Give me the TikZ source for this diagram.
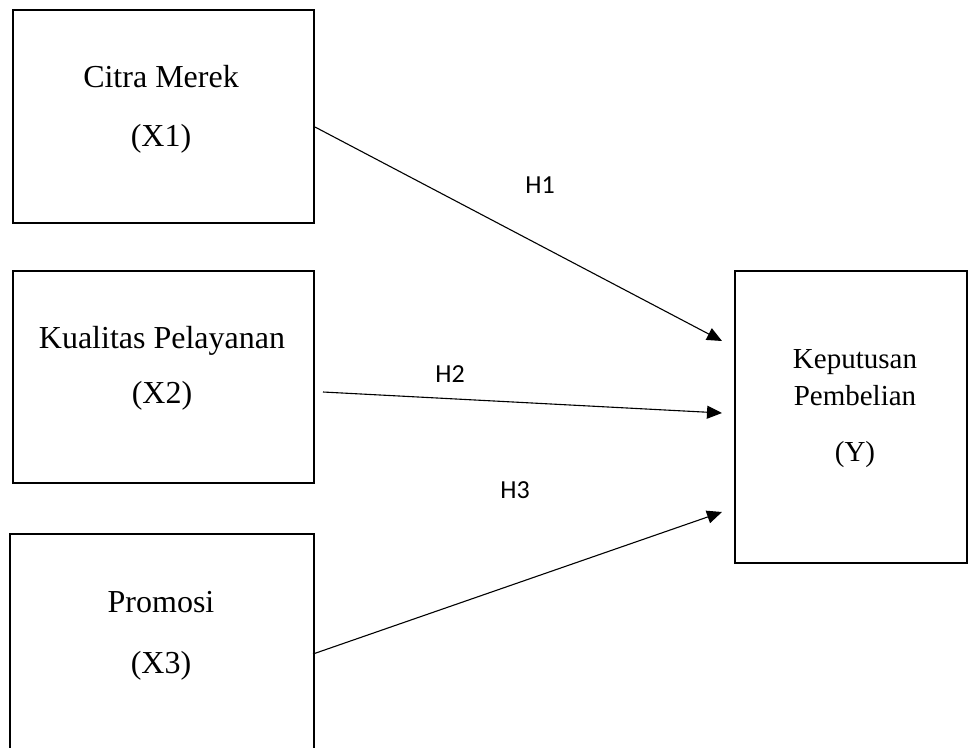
\documentclass[tikz,border=0pt]{standalone}
\usepackage{fontspec}
\setmainfont{Liberation Serif}
\newfontfamily\hfont{Carlito}
\usetikzlibrary{arrows.meta}
\begin{document}
\begin{tikzpicture}[x=1pt,y=-1pt,
  boxnode/.style={draw=black,line width=2pt,inner sep=0pt,anchor=north west},
  xtext/.style={anchor=base,inner sep=0pt,font=\fontsize{32}{38}\selectfont},
  ytext/.style={anchor=base,inner sep=0pt,font=\fontsize{29}{35}\selectfont},
  htext/.style={anchor=base,inner sep=0pt,font=\hfont\fontsize{26}{31}\selectfont},
  link/.style={line width=1.1pt,-{Triangle[length=15pt,width=13pt]}}]
\useasboundingbox (0,0) rectangle (968,747);
% boxes
\node[boxnode,minimum width=301pt,minimum height=213pt] (b1) at (12,9) {};
\node[boxnode,minimum width=301pt,minimum height=212pt] (b2) at (12,270) {};
\node[boxnode,minimum width=304pt,minimum height=217pt] (b3) at (9,533) {};
\node[boxnode,minimum width=232pt,minimum height=292pt] (by) at (734,270) {};
% texts
\node[xtext] (t1a) at (161,87) {Citra Merek};
\node[xtext] (t1b) at (161,146) {(X1)};
\node[xtext] (t2a) at (162,348) {Kualitas Pelayanan};
\node[xtext] (t2b) at (162,403) {(X2)};
\node[xtext] (t3a) at (161,612) {Promosi};
\node[xtext] (t3b) at (161,673) {(X3)};
\node[ytext] (tya) at (855,368) {Keputusan};
\node[ytext] (tyb) at (855,405) {Pembelian};
\node[ytext] (tyc) at (855,461) {(Y)};
% arrow end points
\coordinate (s1) at (315,127);
\coordinate (e1) at (722,341);
\coordinate (s2) at (323,392);
\coordinate (e2) at (722,413);
\coordinate (s3) at (313,654);
\coordinate (e3) at (722,512);
\draw[link] (s1) -- (e1);
\draw[link] (s2) -- (e2);
\draw[link] (s3) -- (e3);
% labels
\node[htext] (h1) at (540,193) {H1};
\node[htext] (h2) at (450,382) {H2};
\node[htext] (h3) at (515,498) {H3};
\end{tikzpicture}
\end{document}
